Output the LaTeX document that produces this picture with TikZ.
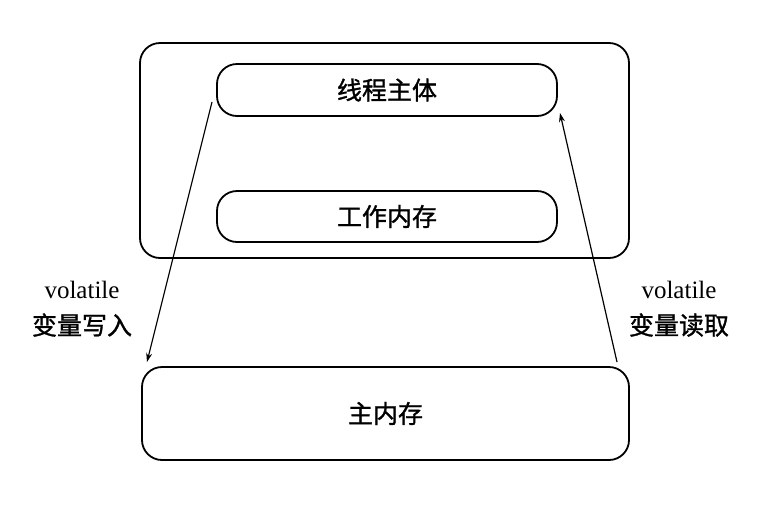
\documentclass[tikz,border=0pt]{standalone}
\usepackage{fontspec}
\setmainfont{Liberation Serif}
\newfontfamily\cjk[FakeBold=1.2]{Noto Sans CJK SC}
\usetikzlibrary{arrows.meta}
\tikzset{
  box/.style={draw, line width=1.8pt, rounded corners=20pt, inner sep=0pt, font=\cjk\fontsize{25}{28}\selectfont},
  lbl/.style={align=center, font=\fontsize{25}{36}\selectfont},
  conn/.style={line width=1.2pt, -{Stealth[length=9pt,width=6pt]}}
}
\begin{document}
\begin{tikzpicture}[x=1pt,y=-1pt]
\useasboundingbox[fill=white] (0,0) rectangle (782,504);
\node[box, minimum width=489pt, minimum height=215pt] (outer) at (384.5,150.5) {};
\node[box, minimum width=340pt, minimum height=52pt] (thread) at (387,90) {线程主体};
\node[box, minimum width=340pt, minimum height=51pt] (work) at (387,216.5) {工作内存};
\node[box, minimum width=487pt, minimum height=93pt] (main) at (385.5,413.5) {主内存};
\coordinate (a1) at (212,102);
\coordinate (a2) at (147,362);
\coordinate (b1) at (617,362);
\coordinate (b2) at (560,113);
\draw[conn] (a1) -- (a2);
\draw[conn] (b1) -- (b2);
\node[lbl] (wl) at (82,309) {volatile\\{\cjk 变量写入}};
\node[lbl] (rl) at (679,309) {volatile\\{\cjk 变量读取}};
\end{tikzpicture}
\end{document}
